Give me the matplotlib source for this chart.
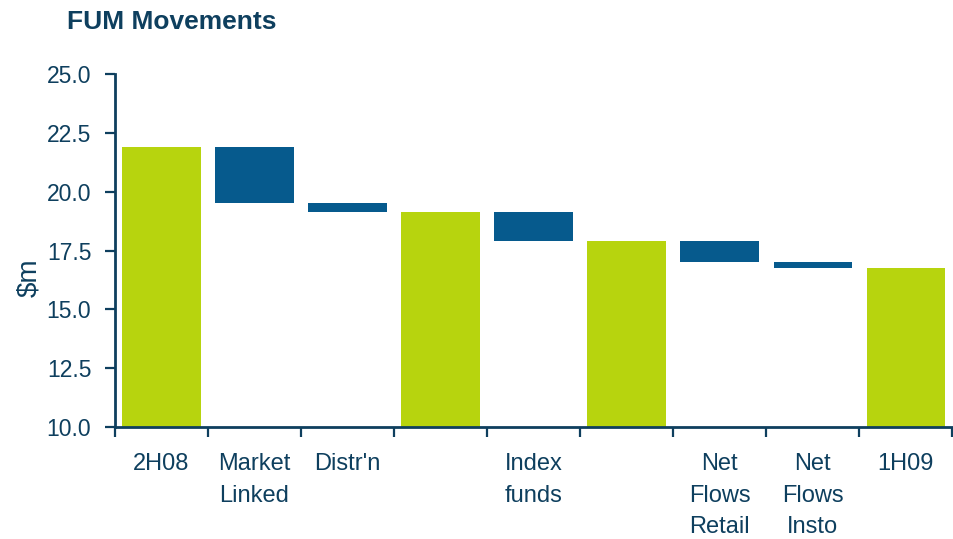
import matplotlib
matplotlib.use("Agg")
import matplotlib.pyplot as plt
import numpy as np

# FUM waterfall: opening / subtotal / closing balances and the movements between them
categories = ["2H08", "Market\nLinked", "Distr'n", "", "Index\nfunds", "",
              "Net\nFlows\nRetail", "Net\nFlows\nInsto", "1H09"]
# None marks a running total bar; numbers are movements ($m)
movements = [None, -2.4, -0.35, None, -1.25, None, -0.9, -0.25, None]
opening = 21.9

plt.rcParams['font.family'] = ['Liberation Sans', 'DejaVu Sans']

GREEN = '#B7D40E'
BLUE = '#065A8D'
DARK = '#0E3F5E'

fig = plt.figure(figsize=(9.54, 5.39), dpi=100)
ax = fig.add_axes([0.1205, 0.2078, 0.8775, 0.6549])

ymin = 10.0
running = opening
x = np.arange(len(categories))
for i, mv in enumerate(movements):
    if mv is None:
        ax.bar(i, running - ymin, bottom=ymin, width=0.84, color=GREEN, zorder=2)
    else:
        new = running + mv
        ax.bar(i, abs(mv), bottom=min(running, new), width=0.84, color=BLUE, zorder=2)
        running = new

ax.set_xlim(-0.5, len(categories) - 0.5)
ax.set_ylim(10.0, 25.0)
ax.set_yticks(np.arange(10.0, 25.01, 2.5))
ax.set_yticklabels([f"{v:.1f}" for v in np.arange(10.0, 25.01, 2.5)])

ax.set_xticks(x)
ax.set_xticklabels(categories, linespacing=1.55)
ax.set_xticks(np.arange(-0.5, len(categories), 1.0), minor=True)
ax.tick_params(axis='x', which='major', length=0, pad=19, labelsize=17, labelcolor=DARK)
ax.tick_params(axis='x', which='minor', length=7, width=1.6, color=DARK, direction='out')
ax.tick_params(axis='y', length=7, width=1.6, color=DARK, pad=10, labelsize=16.5, labelcolor=DARK)

for s in ['top', 'right']:
    ax.spines[s].set_visible(False)
for s in ['left', 'bottom']:
    ax.spines[s].set_color(DARK)
    ax.spines[s].set_linewidth(2)

fig.text(0.031, 0.484, "$m", fontsize=20, color=DARK, rotation=90,
         ha='center', va='center')

fig.text(0.070, 0.947, "FUM Movements", fontsize=19, fontweight='bold',
         color=DARK, va='baseline', ha='left')

fig.savefig("out.png", dpi=100)
